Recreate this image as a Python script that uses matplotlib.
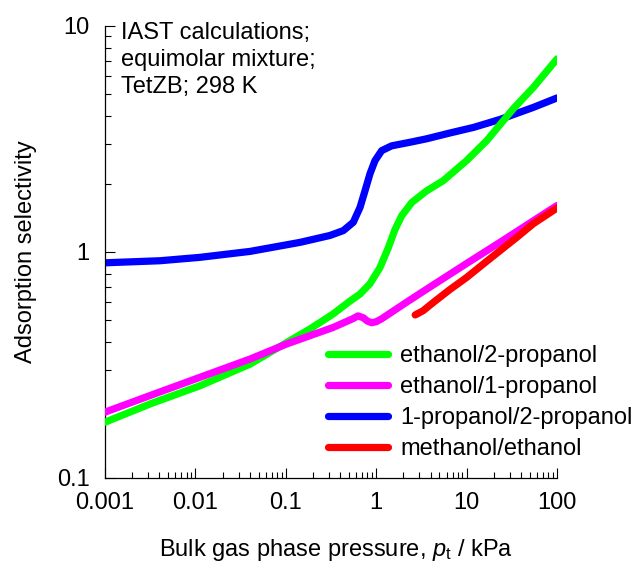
import matplotlib
matplotlib.use("Agg")
import matplotlib.pyplot as plt
from matplotlib.ticker import LogLocator, NullFormatter

plt.rcParams['font.family'] = ['Liberation Sans', 'DejaVu Sans']
plt.rcParams['mathtext.fontset'] = 'custom'
plt.rcParams['mathtext.rm'] = 'Liberation Sans'
plt.rcParams['mathtext.it'] = 'Liberation Sans:italic'

# selectivity vs total pressure (kPa)
p_green = [0.001, 0.00315, 0.0112, 0.0402, 0.103, 0.185, 0.333, 0.5, 0.663, 0.85, 1.1,
           1.36, 1.61, 1.91, 2.47, 3.62, 5.5, 10, 16.7, 25.5, 33, 54.7, 100]
s_green = [0.176, 0.212, 0.255, 0.318, 0.397, 0.455, 0.53, 0.6, 0.65, 0.72, 0.85,
           1.04, 1.25, 1.44, 1.65, 1.86, 2.06, 2.53, 3.1, 3.8, 4.3, 5.33, 7.13]

p_magenta = [0.001, 0.00315, 0.0112, 0.0402, 0.103, 0.333, 0.55, 0.63, 0.72, 0.8, 0.89,
             1.0, 1.15, 2.2, 4.3, 10, 23.4, 54.7, 100]
s_magenta = [0.195, 0.231, 0.278, 0.335, 0.391, 0.462, 0.505, 0.52, 0.51, 0.493, 0.485,
             0.49, 0.505, 0.60, 0.714, 0.887, 1.10, 1.37, 1.6]

p_blue = [0.001, 0.00405, 0.0112, 0.0402, 0.144, 0.308, 0.433, 0.558, 0.662, 0.752, 0.853,
          0.97, 1.15, 1.48, 2.37, 3.62, 6.5, 12, 23.5, 54.7, 100]
s_blue = [0.893, 0.912, 0.944, 1.003, 1.10, 1.18, 1.24, 1.35, 1.57, 1.86, 2.21,
          2.53, 2.80, 2.94, 3.05, 3.16, 3.35, 3.55, 3.85, 4.35, 4.79]

p_red = [2.7, 3.3, 4.3, 6.5, 10, 15.3, 23.4, 35.8, 54.7, 100]
s_red = [0.525, 0.548, 0.597, 0.679, 0.769, 0.882, 1.01, 1.156, 1.33, 1.56]

labels = ['ethanol/2-propanol', 'ethanol/1-propanol', '1-propanol/2-propanol', 'methanol/ethanol']
colors = ['#00ff00', '#ff00ff', '#0000ff', '#ff0000']

fig = plt.figure(figsize=(6.36, 5.67), dpi=100)
ax = fig.add_axes([105 / 636, 89.3 / 567, 452 / 636, 452 / 567])

lw = 5.2
h_blue, = ax.plot(p_blue, s_blue, color=colors[2], lw=lw, solid_capstyle='round', zorder=2)
h_green, = ax.plot(p_green, s_green, color=colors[0], lw=lw, solid_capstyle='round', zorder=3)
h_mag, = ax.plot(p_magenta, s_magenta, color=colors[1], lw=lw, solid_capstyle='round', zorder=4)
h_red, = ax.plot(p_red, s_red, color=colors[3], lw=lw, solid_capstyle='round', zorder=5)

ax.set_xscale('log')
ax.set_yscale('log')
ax.set_xlim(0.001, 100)
ax.set_ylim(0.1, 10)

ax.set_xticks([0.001, 0.01, 0.1, 1, 10, 100])
ax.set_xticklabels(['0.001', '0.01', '0.1', '1', '10', '100'])
ax.set_yticks([0.1, 1, 10])
ax.set_yticklabels(['0.1', '1', '10'])
for axis in [ax.xaxis, ax.yaxis]:
    axis.set_minor_locator(LogLocator(base=10, subs=range(2, 10), numticks=20))
    axis.set_minor_formatter(NullFormatter())

for side in ['top', 'right']:
    ax.spines[side].set_visible(False)
for side in ['left', 'bottom']:
    ax.spines[side].set_linewidth(0.9)

ax.tick_params(which='major', direction='in', length=7, width=0.8, labelsize=17,
               top=False, right=False)
ax.tick_params(which='minor', direction='in', length=4.5, width=0.8, top=False, right=False)
ax.tick_params(axis='x', which='major', pad=10)
ax.tick_params(axis='y', which='major', pad=11)

ax.set_xlabel(r'Bulk gas phase pressure, $p_\mathrm{t}$ / kPa', fontsize=17)
ax.set_ylabel('Adsorption selectivity', fontsize=17)
ax.xaxis.set_label_coords(0.511, -0.131)
ax.yaxis.set_label_coords(-0.150, 0.5)

fig.text(121 / 636, 1 - 21.5 / 567, 'IAST calculations;\nequimolar mixture;\nTetZB; 298 K',
         fontsize=17, va='top', ha='left', linespacing=1.3)

fig.legend([h_green, h_mag, h_blue, h_red], labels,
           loc='upper left', bbox_to_anchor=(328 / 636, 1 - 345 / 567),
           frameon=False, fontsize=17, handlelength=2.55, handletextpad=0.5,
           labelspacing=0.38, borderpad=0, borderaxespad=0)

fig.savefig('out.png', dpi=100)
